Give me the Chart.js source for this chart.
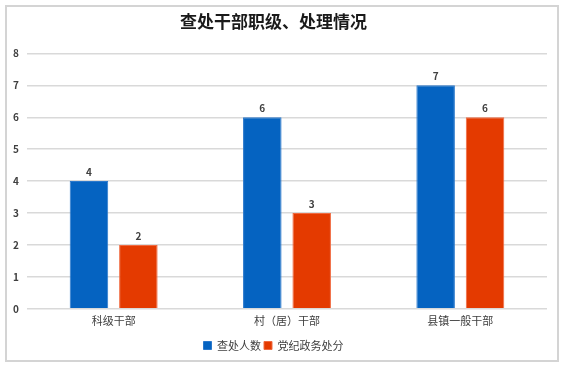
<!DOCTYPE html>
<html>
<head>
<meta charset="utf-8">
<script src="https://cdn.jsdelivr.net/npm/chart.js@4"></script>
<style>
html,body{margin:0;padding:0;background:#fff;}
#wrap{position:absolute;left:0;top:0;width:567px;height:368px;}
</style>
</head>
<body>
<div id="wrap"><canvas id="c" width="567" height="368"></canvas></div>
<script>
const titleText = '查处干部职级、处理情况';
const categories = ['科级干部', '村（居）干部', '县镇一般干部'];
const seriesNames = ['查处人数', '党纪政务处分'];
const investigated = [4, 6, 7];
const punished = [2, 3, 6];
const yTicks = [0, 1, 2, 3, 4, 5, 6, 7, 8];

const FONT = '"Noto Sans CJK SC", "Liberation Sans", sans-serif';

const borderPlugin = {
  id: 'frame',
  beforeDraw(chart) {
    const ctx = chart.ctx;
    ctx.save();
    ctx.fillStyle = '#fff';
    ctx.fillRect(0, 0, chart.width, chart.height);
    ctx.strokeStyle = '#d4d4d4';
    ctx.lineWidth = 2;
    ctx.strokeRect(6, 6, 552, 355);
    ctx.restore();
  }
};

const labelPlugin = {
  id: 'vals',
  afterDatasetsDraw(chart) {
    const ctx = chart.ctx;
    ctx.save();
    ctx.font = 'bold 10px ' + FONT;
    ctx.fillStyle = '#404040';
    ctx.textAlign = 'center';
    ctx.textBaseline = 'bottom';
    chart.data.datasets.forEach((ds, i) => {
      chart.getDatasetMeta(i).data.forEach((bar, j) => {
        ctx.fillText(String(ds.data[j]), bar.x, bar.y - 4);
      });
    });
    ctx.restore();
  }
};

new Chart(document.getElementById('c'), {
  type: 'bar',
  data: {
    labels: categories,
    datasets: [
      { label: seriesNames[0], data: investigated, backgroundColor: '#0563c1', borderColor: '#2a78cc', borderWidth: 1 },
      { label: seriesNames[1], data: punished, backgroundColor: '#e43a00', borderColor: '#f06a40', borderWidth: 1 }
    ]
  },
  options: {
    responsive: false,
    animation: false,
    devicePixelRatio: 1,
    layout: { padding: { left: 0, right: 20, top: 0, bottom: 7 } },
    datasets: { bar: { categoryPercentage: 0.57, barPercentage: 0.78 } },
    plugins: {
      title: {
        display: true, text: titleText, color: '#1a1a1a',
        font: { family: FONT, size: 17, weight: 'bold' },
        padding: { top: 11, bottom: 22 }
      },
      legend: {
        position: 'bottom',
        labels: {
          boxWidth: 8, boxHeight: 8, color: '#404040',
          font: { family: FONT, size: 11 }, padding: 3
        }
      },
      tooltip: { enabled: false }
    },
    scales: {
      x: {
        afterFit(s) { s.height += 5; },
        grid: { display: false, drawTicks: false },
        border: { display: false },
        ticks: { color: '#404040', font: { family: FONT, size: 11 }, padding: 5 }
      },
      y: {
        min: 0, max: 8,
        afterBuildTicks(s) { s.ticks = yTicks.map(v => ({ value: v })); },
        afterFit(s) { s.width = 27; },
        grid: { color: '#d9d9d9', lineWidth: 1.5, drawTicks: false },
        border: { display: false },
        ticks: { color: '#404040', font: { family: FONT, size: 10, weight: 'bold' }, padding: 8 }
      }
    }
  },
  plugins: [borderPlugin, labelPlugin]
});
</script>
</body>
</html>
